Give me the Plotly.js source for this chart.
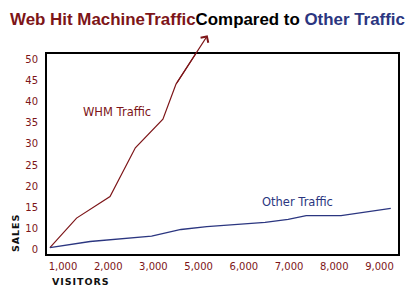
<!DOCTYPE html>
<html>
<head>
<meta charset="utf-8">
<script src="https://cdn.plot.ly/plotly-3.0.1.min.js"></script>
<style>html,body{margin:0;padding:0;background:#fff;}#chart{width:415px;height:300px;}</style>
</head>
<body>
<div id="chart"></div>
<script>
// Tick positions (axis units) and their printed labels
var xTickPos = [1, 2, 3, 4, 5, 6, 7, 8];
var xTickLabels = ['1,000', '2,000', '3,000', '5,000', '6,000', '7,000', '8,000', '9,000'];
var yTickPos = [5, 10, 15, 20, 25, 30, 35, 40, 45, 50];
var yTickLabels = ['0', '10', '15', '20', '25', '30', '35', '40', '45', '50'];

// WHM Traffic series (x in tick-axis units, y in sales units)
var whmX = [0.71, 1.30, 2.04, 2.60, 3.21, 3.50, 4.20];
var whmY = [5.4, 12.4, 17.5, 29.1, 35.9, 44.2, 55.8];

// Other Traffic series
var otherX = [0.71, 1.60, 2.96, 3.61, 4.18, 4.92, 5.47, 5.98, 6.38, 7.15, 8.25];
var otherY = [5.4, 6.85, 8.1, 9.7, 10.4, 10.9, 11.4, 12.1, 13.0, 13.0, 14.7];

var RED = '#7d1518';
var NAVY = '#2b3680';
var n = whmX.length;

var traces = [
  {x: whmX, y: whmY, type: 'scatter', mode: 'lines', line: {color: RED, width: 1.2}, hoverinfo: 'skip'},
  {x: otherX, y: otherY, type: 'scatter', mode: 'lines', line: {color: NAVY, width: 1.3}, hoverinfo: 'skip'}
];

var layout = {
  width: 415, height: 300,
  margin: {l: 47, r: 17, t: 54, b: 46},
  paper_bgcolor: '#fff', plot_bgcolor: '#fff',
  showlegend: false,
  font: {family: 'DejaVu Sans, Verdana, sans-serif', size: 10, color: RED},
  title: {
    text: '<span style="color:' + RED + '">Web Hit MachineTraffic</span><span style="color:#000">Compared to </span><span style="color:' + NAVY + '">Other Traffic</span>',
    font: {family: 'Liberation Sans, Arial, sans-serif', size: 16.9, weight: 'bold'},
    xref: 'container', x: 0.5, xanchor: 'center',
    yref: 'container', y: 0.935, yanchor: 'middle'
  },
  xaxis: {
    range: [0.646, 8.41], tickmode: 'array', tickvals: xTickPos, ticktext: xTickLabels,
    showgrid: false, zeroline: false, showline: true, mirror: true, linecolor: '#000', linewidth: 2,
    ticks: 'outside', ticklen: 2, tickcolor: 'rgba(0,0,0,0)',
    tickfont: {family: 'DejaVu Sans, Verdana, sans-serif', size: 10, color: RED}
  },
  yaxis: {
    range: [3.88, 51.35], tickmode: 'array', tickvals: yTickPos, ticktext: yTickLabels,
    showgrid: false, zeroline: false, showline: true, mirror: true, linecolor: '#000', linewidth: 2,
    ticks: 'outside', ticklen: 5, tickcolor: 'rgba(0,0,0,0)',
    tickfont: {family: 'DejaVu Sans, Verdana, sans-serif', size: 10, color: RED}
  },
  annotations: [
    {x: whmX[n - 1], y: whmY[n - 1], ax: whmX[n - 2], ay: whmY[n - 2], xref: 'x', yref: 'y', axref: 'x', ayref: 'y',
     showarrow: true, arrowhead: 4, arrowsize: 1.6, arrowwidth: 1.1, arrowcolor: RED, text: ''},
    {x: 0.1986, y: 0.7115, xref: 'paper', yref: 'paper', showarrow: false, text: 'WHM Traffic',
     font: {family: 'DejaVu Sans, Verdana, sans-serif', size: 11.5, color: RED}, xanchor: 'center', yanchor: 'middle'},
    {x: 0.715, y: 0.26, xref: 'paper', yref: 'paper', showarrow: false, text: 'Other Traffic',
     font: {family: 'DejaVu Sans, Verdana, sans-serif', size: 11.5, color: NAVY}, xanchor: 'center', yanchor: 'middle'},
    {x: -0.0912, y: 0.105, xref: 'paper', yref: 'paper', showarrow: false, text: 'S\u200AA\u200AL\u200AE\u200AS', textangle: -90,
     font: {family: 'DejaVu Sans, Verdana, sans-serif', size: 9.5, color: '#111', weight: 'bold'}, xanchor: 'center', yanchor: 'middle'},
    {x: 0.0085, y: -0.1385, xref: 'paper', yref: 'paper', showarrow: false, text: 'V\u200AI\u200AS\u200AI\u200AT\u200AO\u200AR\u200AS',
     font: {family: 'DejaVu Sans, Verdana, sans-serif', size: 9.5, color: '#111', weight: 'bold'}, xanchor: 'left', yanchor: 'middle'}
  ]
};

Plotly.newPlot('chart', traces, layout, {displayModeBar: false, staticPlot: true});
</script>
</body>
</html>
